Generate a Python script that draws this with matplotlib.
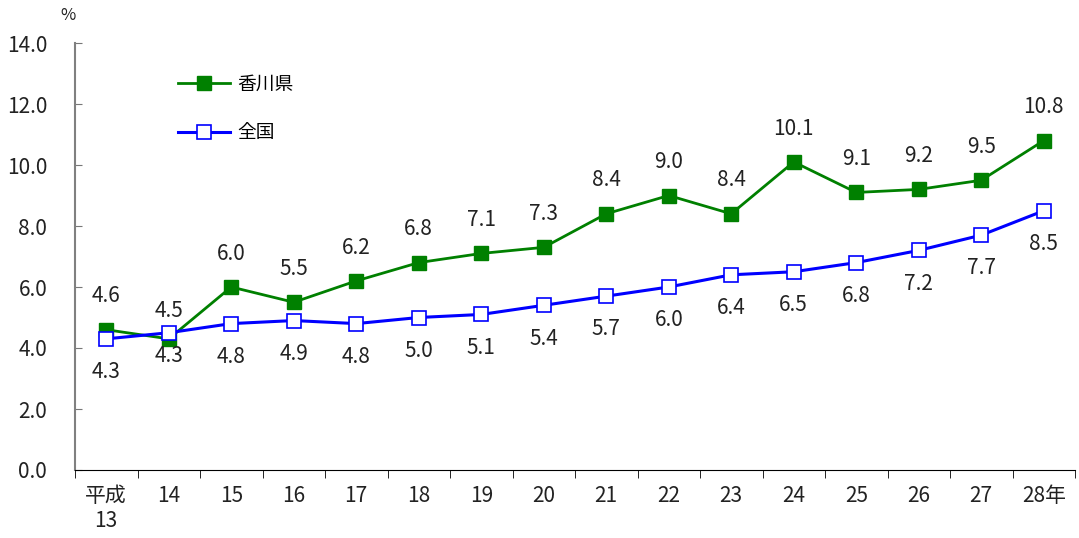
import numpy as np
import matplotlib.pyplot as plt
from matplotlib.ticker import FixedLocator

plt.rcParams['font.family'] = ['Noto Sans CJK JP', 'DejaVu Sans']

# data
years = ['平成\n13', '14', '15', '16', '17', '18', '19', '20', '21', '22',
         '23', '24', '25', '26', '27', '28年']
kagawa = [4.6, 4.3, 6.0, 5.5, 6.2, 6.8, 7.1, 7.3, 8.4, 9.0, 8.4, 10.1, 9.1, 9.2, 9.5, 10.8]
zenkoku = [4.3, 4.5, 4.8, 4.9, 4.8, 5.0, 5.1, 5.4, 5.7, 6.0, 6.4, 6.5, 6.8, 7.2, 7.7, 8.5]

# label offsets in points (positive = above)
kagawa_off = [24, -12] + [24] * 14
zenkoku_off = [-24, 16] + [-24] * 14

fig = plt.figure(figsize=(10.79, 5.38), dpi=100)
ax = fig.add_axes([75 / 1079, (538 - 470) / 538, 1000 / 1079, 427 / 538])

x = np.arange(len(years))
ax.plot(x, kagawa, color='#008000', lw=2, marker='s', ms=9.5,
        mfc='#008000', mec='#008000', label='香川県', zorder=3)
ax.plot(x, zenkoku, color='#0000ff', lw=2.2, marker='s', ms=9.5,
        mfc='white', mec='#0000ff', mew=1.2, label='全国', zorder=4)

for xi, v, o in zip(x, kagawa, kagawa_off):
    ax.annotate(f'{v:.1f}', (xi, v), xytext=(0, o), textcoords='offset points',
                ha='center', va='center', fontsize=15, color='#222222')
for xi, v, o in zip(x, zenkoku, zenkoku_off):
    ax.annotate(f'{v:.1f}', (xi, v), xytext=(0, o), textcoords='offset points',
                ha='center', va='center', fontsize=15, color='#222222')

ax.set_xlim(-0.5, len(years) - 0.5)
ax.set_ylim(0, 14)
ax.set_yticks(np.arange(0, 14.1, 2))
ax.set_yticklabels([f'{t:.1f}' for t in np.arange(0, 14.1, 2)], fontsize=15, color='#222222')
ax.tick_params(axis='y', direction='in', length=5, color='#777777', pad=20)

ax.set_xticks(x)
ax.set_xticklabels(years, fontsize=15, color='#222222', linespacing=1.15)
ax.xaxis.set_minor_locator(FixedLocator(np.arange(-0.5, len(years), 1)))
ax.tick_params(axis='x', which='major', length=0, pad=11)
ax.tick_params(axis='x', which='minor', length=6, direction='out', color='black')

for s in ['top', 'right']:
    ax.spines[s].set_visible(False)
ax.spines['left'].set_color('#808080')
ax.spines['left'].set_linewidth(1.5)
ax.spines['bottom'].set_color('black')

fig.text(68 / 1079, 1 - 15 / 538, '%', fontsize=12, ha='center', va='center', color='#222222')

ax.legend(loc='upper left', bbox_to_anchor=(0.086, 0.967), frameon=False, fontsize=13.5,
          handlelength=2.8, labelspacing=1.45, handletextpad=0.35)

fig.savefig('out.png', dpi=100)
